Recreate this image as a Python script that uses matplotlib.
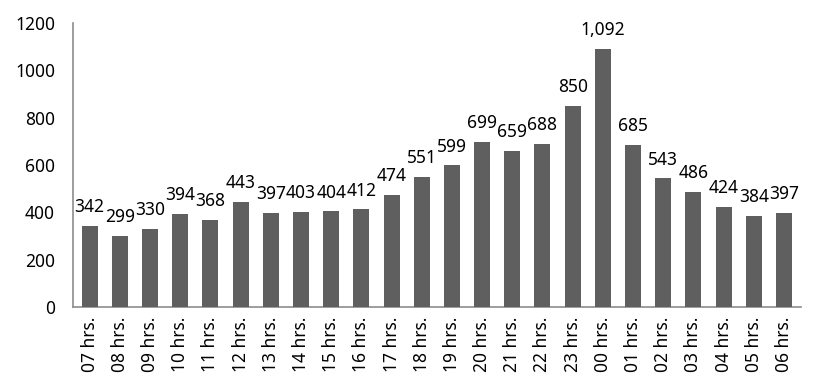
import matplotlib
matplotlib.use('Agg')
import matplotlib.pyplot as plt

# hourly counts
hours = ['07', '08', '09', '10', '11', '12', '13', '14', '15', '16', '17', '18',
         '19', '20', '21', '22', '23', '00', '01', '02', '03', '04', '05', '06']
counts = [342, 299, 330, 394, 368, 443, 397, 403, 404, 412, 474, 551,
          599, 699, 659, 688, 850, 1092, 685, 543, 486, 424, 384, 397]
tick_labels = [h + ' hrs.' for h in hours]

plt.rcParams['font.family'] = ['Noto Sans', 'DejaVu Sans']

fig = plt.figure(figsize=(8.24, 3.91), dpi=100)
ax = fig.add_axes([0.0886, 0.215, 0.883, 0.726])

x = range(len(counts))
bars = ax.bar(x, counts, width=0.53, color='#5f5f5f', zorder=3)
for xi, v in zip(x, counts):
    ax.annotate(f'{v:,}', (xi, v), xytext=(0, 7), textcoords='offset points',
                ha='center', va='bottom', fontsize=12.5, color='black')

ax.set_xlim(-0.55, len(counts) - 0.45)
ax.set_ylim(0, 1200)
ax.set_yticks(range(0, 1201, 200))
ax.set_xticks(list(x))
ax.set_xticklabels(tick_labels, rotation=90, fontsize=12.5)
ax.tick_params(axis='y', labelsize=12.5, length=0, pad=13)
ax.tick_params(axis='x', length=0, pad=7)

for s in ['top', 'right']:
    ax.spines[s].set_visible(False)
for s in ['left', 'bottom']:
    ax.spines[s].set_color('#8c8c8c')
    ax.spines[s].set_linewidth(1.2)

fig.savefig('out.png', dpi=100)
